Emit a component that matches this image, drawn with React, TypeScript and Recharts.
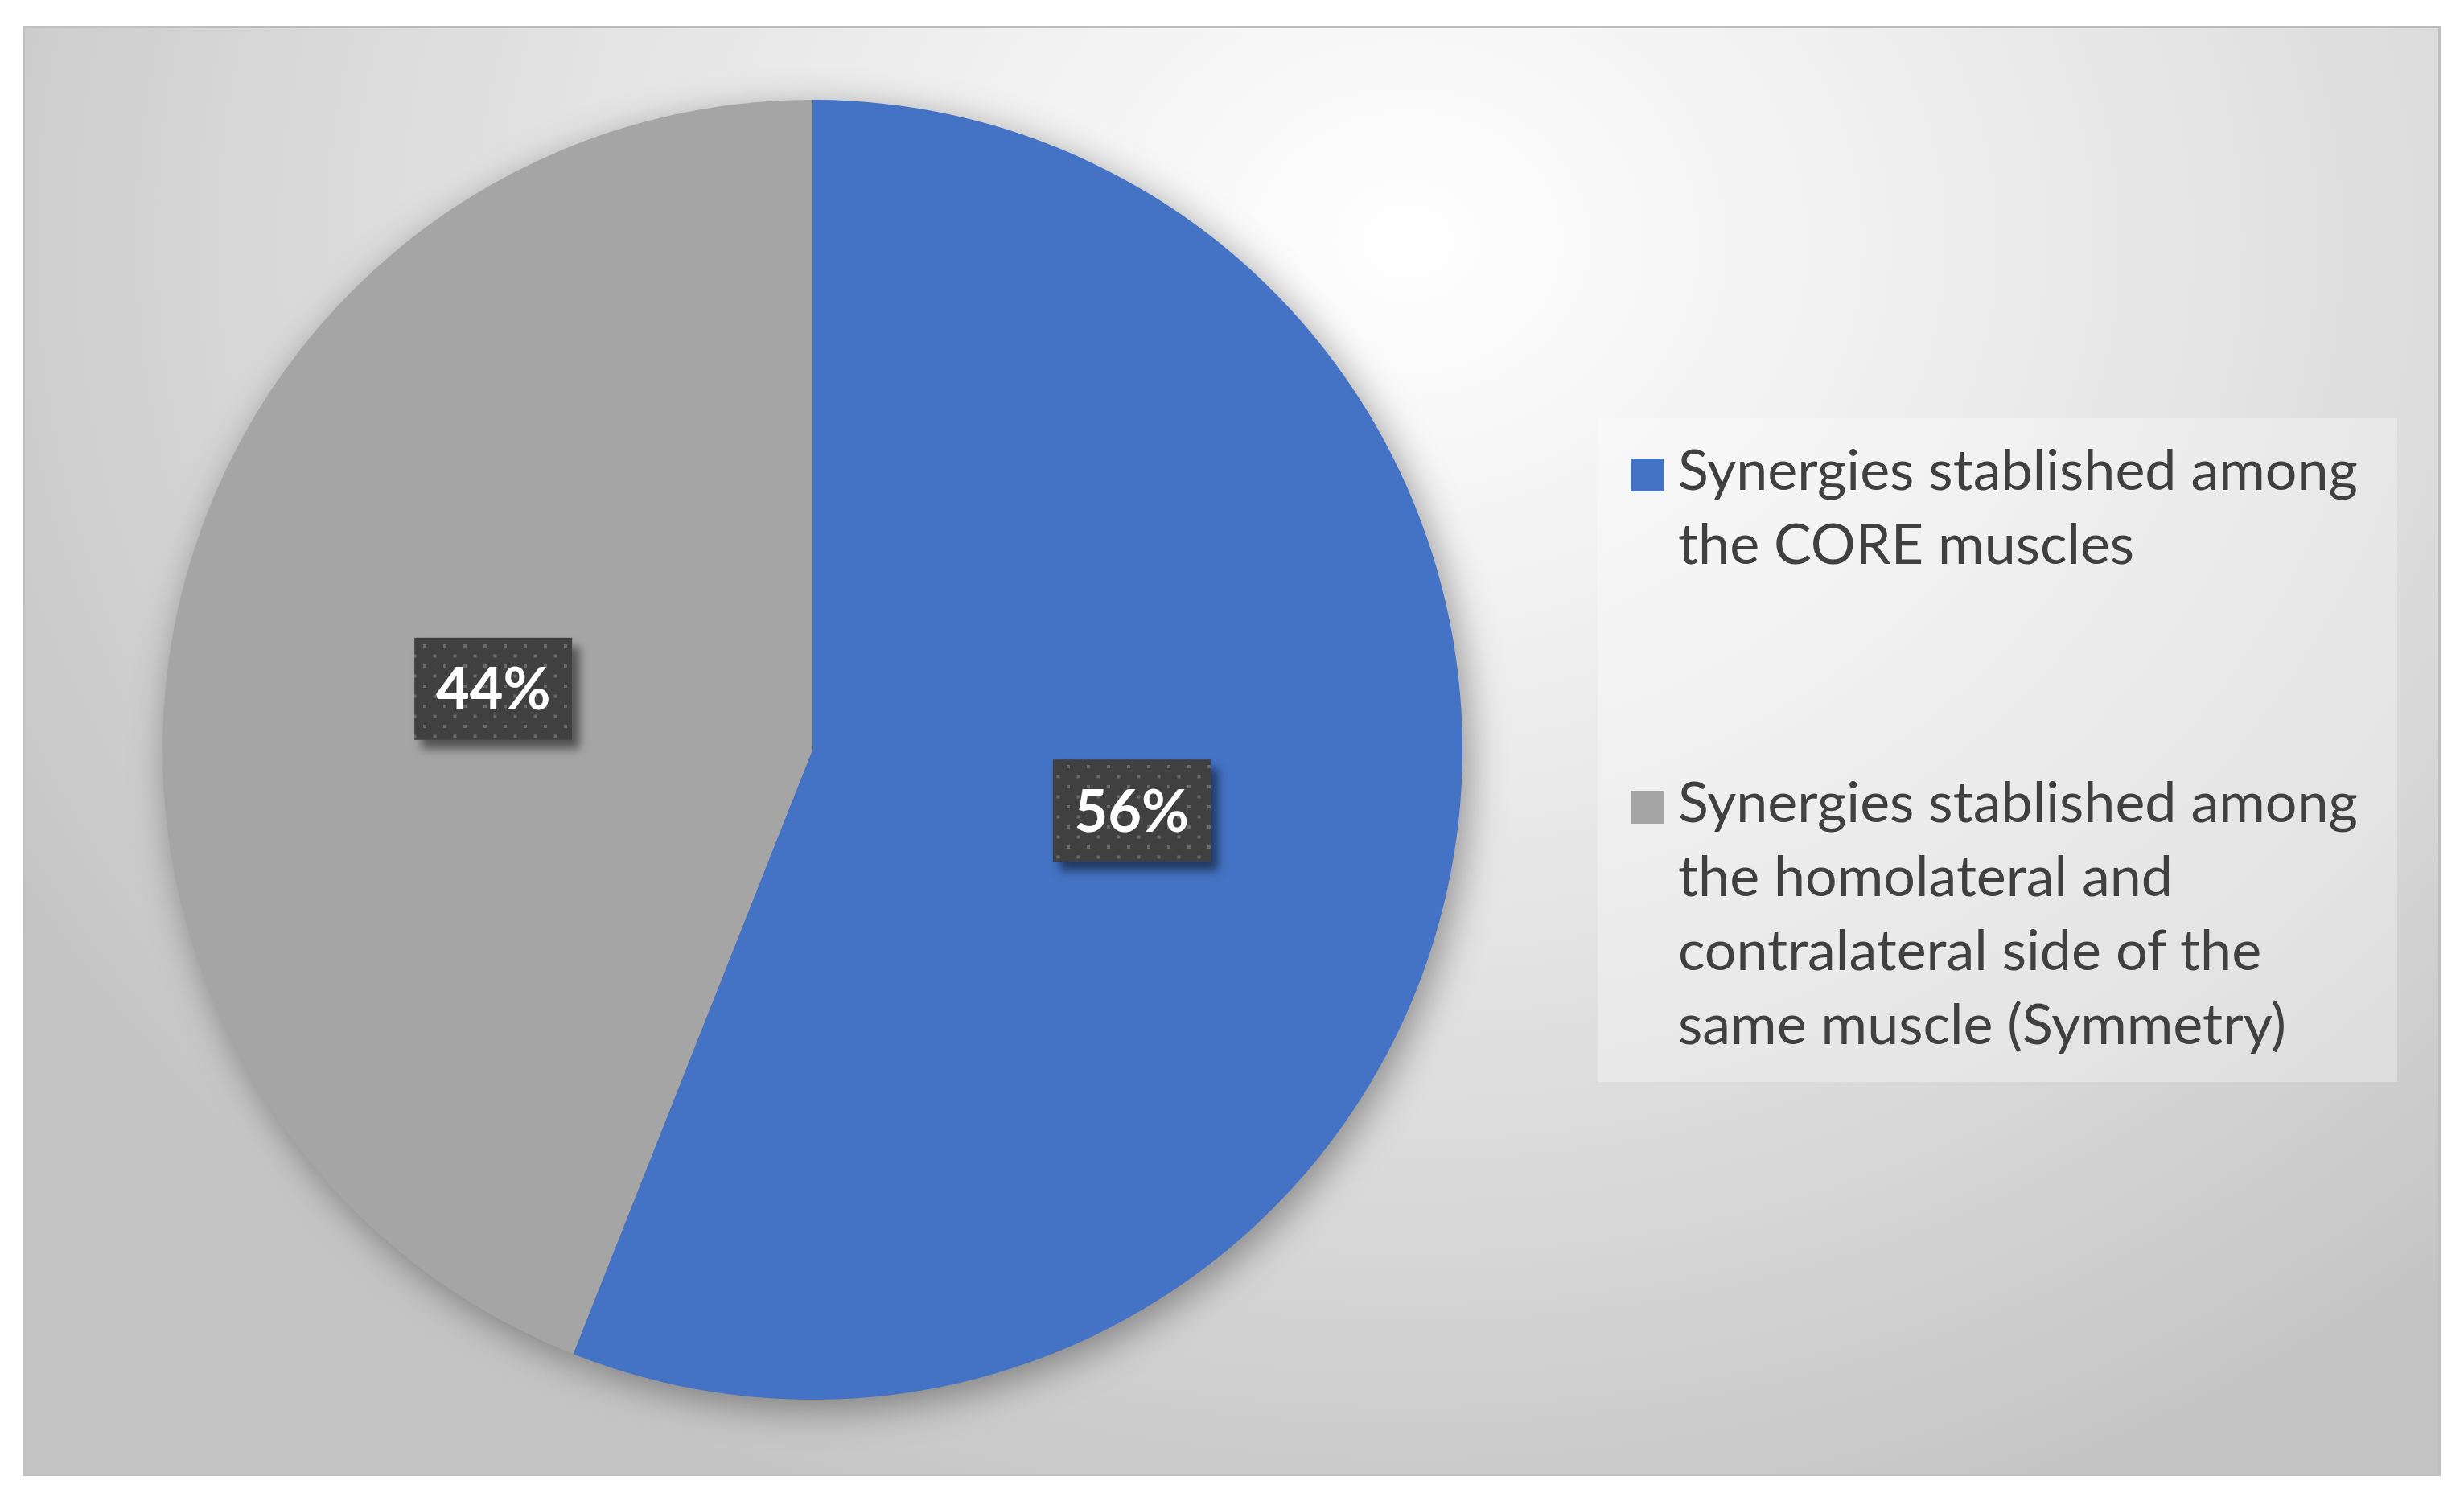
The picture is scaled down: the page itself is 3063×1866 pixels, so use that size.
import React from "react";
import { PieChart, Pie, Cell, Legend } from "recharts";

const categories: string[] = [
  "Synergies stablished among the CORE muscles",
  "Synergies stablished among the homolateral and contralateral side of the same muscle (Symmetry)",
];
const shares: number[] = [56, 44];
const sliceColors: string[] = ["#4472C4", "#A5A5A5"];

const data = categories.map((name, i) => ({ name, value: shares[i] }));

const RADIAN = Math.PI / 180;
const FONT = "Lato, 'Open Sans', sans-serif";

function wrapText(text: string, maxChars: number): string[] {
  const words = text.split(" ");
  const lines: string[] = [];
  let cur = "";
  for (const w of words) {
    const next = cur ? cur + " " + w : w;
    if (next.length > maxChars && cur) {
      lines.push(cur);
      cur = w;
    } else {
      cur = next;
    }
  }
  if (cur) lines.push(cur);
  return lines;
}

const renderLabel = (props: any) => {
  const { cx, cy, midAngle, outerRadius, percent, index } = props;
  const r = outerRadius * 0.5;
  const x = cx + r * Math.cos(-midAngle * RADIAN);
  const y = cy + r * Math.sin(-midAngle * RADIAN);
  const w = 196;
  const h = 127;
  return (
    <g key={`lbl-${index}`}>
      <rect
        x={x - w / 2}
        y={y - h / 2}
        width={w}
        height={h}
        fill="url(#dotPattern)"
        filter="url(#labelShadow)"
      />
      <text
        x={x}
        y={y + 26}
        textAnchor="middle"
        fill="#ffffff"
        fontFamily={FONT}
        fontWeight={700}
        fontSize={72}
      >
        {`${Math.round(percent * 100)}%`}
      </text>
    </g>
  );
};

const renderLegend = (props: any) => {
  const all: any[] = props.payload || [];
  const payload = all.filter(
    (e: any) => e.type !== "none" && sliceColors.includes(String(e.color).toUpperCase())
  );
  return (
    <div
      style={{
        width: 994,
        height: 825,
        boxSizing: "border-box",
        padding: "16px 0 0 41px",
        background: "rgba(255,255,255,0.32)",
        fontFamily: FONT,
      }}
    >
      {payload.map((entry: any, i: number) => (
        <div
          key={`leg-${i}`}
          style={{
            display: "flex",
            alignItems: "flex-start",
            marginBottom: i === 0 ? 229 : 0,
          }}
        >
          <div
            style={{
              width: 41,
              height: 41,
              background: entry.color,
              marginTop: 34,
              marginRight: 18,
              flex: "none",
            }}
          />
          <div style={{ fontSize: 70, lineHeight: "92px", color: "#404040", whiteSpace: "nowrap" }}>
            {wrapText(String(entry.value), 26).map((line, j) => (
              <div key={j}>{line}</div>
            ))}
          </div>
        </div>
      ))}
    </div>
  );
};

export default function App() {
  return (
    <div
      style={{
        position: "absolute",
        left: 0,
        top: 0,
        width: 3063,
        height: 1866,
        background: "#ffffff",
        overflow: "hidden",
        fontFamily: FONT,
      }}
    >
      <svg width={0} height={0} style={{ position: "absolute" }}>
        <defs>
          <pattern id="dotPattern" width={25} height={25} patternUnits="userSpaceOnUse">
            <rect width={25} height={25} fill="#404040" />
            <rect x={1} y={1} width={4} height={4} fill="#6a6a6a" />
            <rect x={13.5} y={13.5} width={4} height={4} fill="#6a6a6a" />
          </pattern>
          <filter id="labelShadow" x="-20%" y="-25%" width="150%" height="160%">
            <feDropShadow dx={9} dy={11} stdDeviation={6} floodColor="#000" floodOpacity={0.5} />
          </filter>
          <filter id="pieBlur" x="-20%" y="-20%" width="140%" height="140%">
            <feOffset dx={8} dy={12} />
            <feGaussianBlur stdDeviation={24} />
          </filter>
        </defs>
      </svg>
      <div
        style={{
          position: "absolute",
          left: 28,
          top: 32,
          width: 3006,
          height: 1803,
          boxSizing: "border-box",
          border: "3px solid #bfbfbf",
          background:
            "radial-gradient(ellipse 2000px 1700px at 1719px 265px, #ffffff 0%, #ededed 35%, #d9d9d9 70%, #c4c4c4 100%)",
        }}
      />
      <div style={{ position: "absolute", left: 0, top: 0 }}>
        <PieChart width={3063} height={1866} margin={{ top: 0, right: 0, bottom: 0, left: 0 }}>
          <Pie
            data={data}
            dataKey="value"
            nameKey="name"
            cx={1010}
            cy={932}
            outerRadius={808}
            startAngle={90}
            endAngle={-270}
            isAnimationActive={false}
            legendType="none"
            stroke="none"
          >
            {data.map((d, i) => (
              <Cell key={`sh-${i}`} fill="#000000" fillOpacity={0.38} filter="url(#pieBlur)" />
            ))}
          </Pie>
          <Pie
            data={data}
            dataKey="value"
            nameKey="name"
            cx={1010}
            cy={932}
            outerRadius={808}
            startAngle={90}
            endAngle={-270}
            isAnimationActive={false}
            stroke="none"
            label={renderLabel}
            labelLine={false}
          >
            {data.map((d, i) => (
              <Cell key={`c-${i}`} fill={sliceColors[i]} />
            ))}
          </Pie>
          <Legend
            layout="vertical"
            align="right"
            verticalAlign="middle"
            content={renderLegend}
            wrapperStyle={{ left: 1986, top: 520, right: "auto", bottom: "auto", width: 994, height: 825 }}
          />
        </PieChart>
      </div>
    </div>
  );
}
